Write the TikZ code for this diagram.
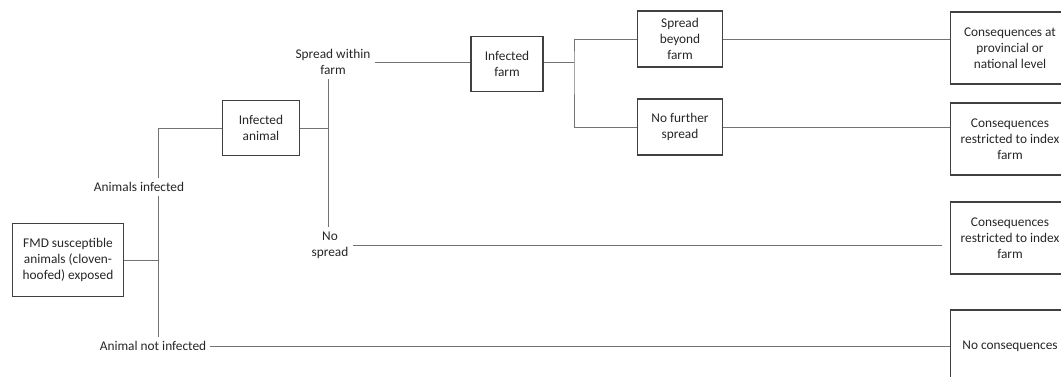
\documentclass[tikz,border=0pt]{standalone}
\usepackage{fontspec}
\setmainfont{Carlito}
\usepackage{tikz}

\begin{document}
\begin{tikzpicture}[
        x=0.75pt, y=-0.75pt,
        every node/.style={font=\fontsize{10}{12}\selectfont, text=black!85},
        box/.style={draw=black!75, line width=0.8pt, align=center, inner sep=2pt},
        branch/.style={align=center, inner sep=3pt},
        link/.style={draw=black!55, line width=0.7pt}
    ]
        \useasboundingbox (0,0) rectangle (1061,376);

        % Root and first split
        \node[box, minimum width=83pt, minimum height=55pt] (fmd) at (68,260) {FMD susceptible\\animals (cloven-\\hoofed) exposed};
        \node[branch] (infected) at (139,187) {Animals infected};
        \node[branch] (notinf) at (153,346) {Animal not infected};
        \node[box, minimum width=58pt, minimum height=41pt] (infanimal) at (261,128) {Infected\\animal};

        % Spread at animal level
        \node[branch] (within) at (333,62) {Spread within\\farm};
        \node[branch] (nospread) at (330,245) {No\\spread};
        \node[box, minimum width=54pt, minimum height=41pt] (inffarm) at (507,64) {Infected\\farm};

        % Spread at farm level
        \node[box, minimum width=64pt, minimum height=42pt] (beyond) at (680,39) {Spread\\beyond\\farm};
        \node[box, minimum width=64pt, minimum height=42pt] (nofurther) at (680,127) {No further\\spread};

        % Consequences
        \node[box, minimum width=89pt, minimum height=54pt] (consnat) at (1010,48) {Consequences at\\provincial or\\national level};
        \node[box, minimum width=89pt, minimum height=54pt] (considx) at (1010,139) {Consequences\\restricted to index\\farm};
        \node[box, minimum width=89pt, minimum height=54pt] (considxb) at (1010,238) {Consequences\\restricted to index\\farm};
        \node[box, minimum width=89pt, minimum height=54pt] (nocons) at (1010,346) {No consequences};

        % Junctions
        \coordinate (ja) at (158,260);
        \coordinate (jb) at (328,128);
        \coordinate (jc) at (574,62);
        \coordinate (nsend) at (942,245);

        % Connectors
        \draw[link] (fmd) -- (ja);
        \draw[link] (infanimal.west) -| (ja |- infected.north);
        \draw[link] (ja |- infected.south) -- (ja |- notinf.north);
        \draw[link] (notinf) -- (nocons);

        \draw[link] (infanimal) -- (jb);
        \draw[link] (jb |- within.south) -- (jb |- nospread.north);
        \draw[link] (within) -- (within -| inffarm.west);
        \draw[link] (nospread) -- (nsend);

        \draw[link] (inffarm.east |- jc) -- (jc);
        \draw[link] (beyond.west) -| (jc) |- (nofurther.west);
        \draw[link] (beyond.east) -- (beyond.east -| consnat.west);
        \draw[link] (nofurther.east) -- (nofurther.east -| considx.west);
    \end{tikzpicture}
\end{document}
